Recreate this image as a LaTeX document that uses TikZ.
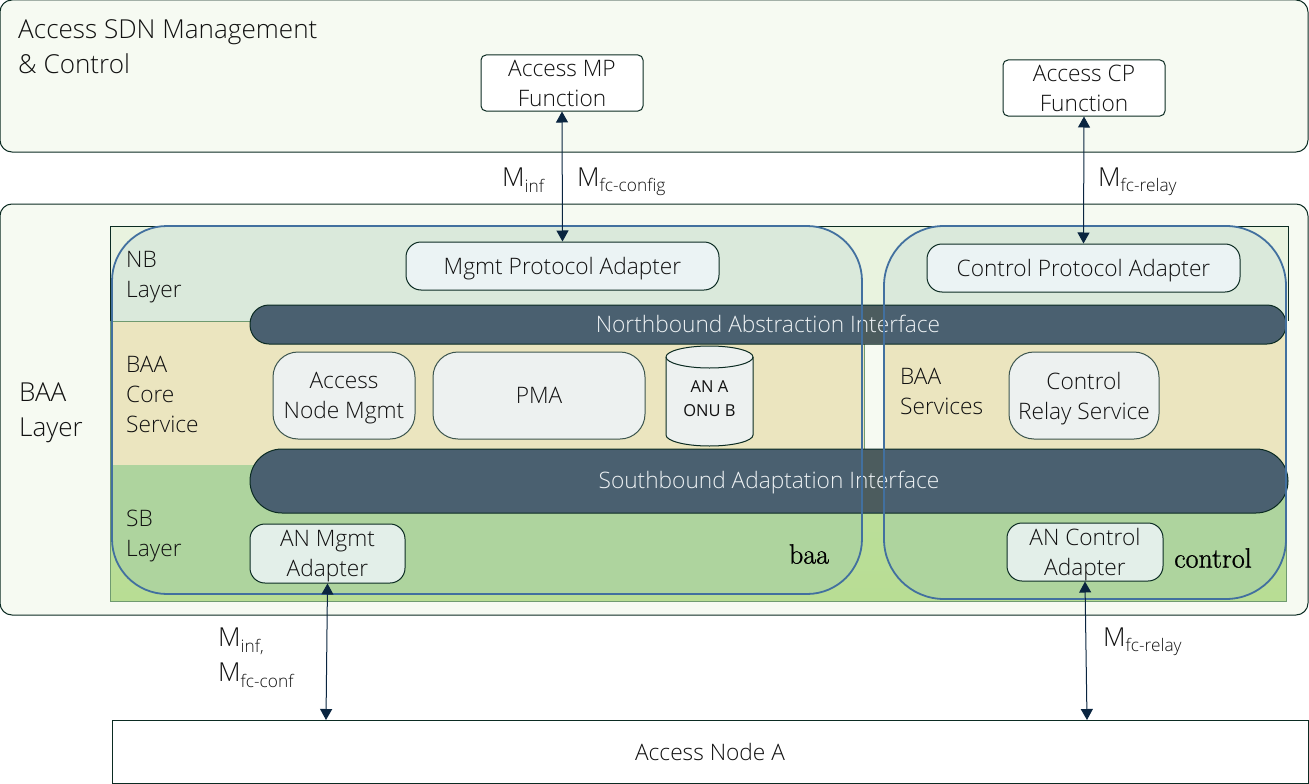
\documentclass[tikz,border=0pt]{standalone}
\usepackage{fontspec}
\newfontfamily\osf{Open Sans Light}
\newfontfamily\osr{Open Sans}
\newfontfamily\lmrb{Latin Modern Roman}[FakeBold=1]
\usetikzlibrary{arrows.meta}
\definecolor{panelc}{HTML}{F6FAF2}
\definecolor{darkl}{HTML}{0B2B22}
\definecolor{bluel}{HTML}{42709F}
\definecolor{barc}{HTML}{4A6070}
\definecolor{barg}{HTML}{4C5C5E}
\definecolor{topc}{HTML}{E9F3DF}
\definecolor{botc}{HTML}{B8DD94}
\definecolor{nbc}{HTML}{DAE9DB}
\definecolor{corec}{HTML}{EBE5BF}
\definecolor{sbc}{HTML}{AED49E}
\definecolor{greenl}{HTML}{6F9A70}
\definecolor{arrowc}{HTML}{0A2540}
\definecolor{txt}{HTML}{111111}
\definecolor{nbfill}{HTML}{EBF3F4}
\definecolor{corefill}{HTML}{EDF1F0}
\definecolor{sbfill}{HTML}{E3EFE9}
\definecolor{barText}{HTML}{EEF2F4}
\newcommand{\msub}[1]{M{\raisebox{-5.5pt}{\fontsize{17.3}{17}\selectfont #1}}}
\tikzset{
 txtm/.style={font=\osf\fontsize{22.7}{30}\selectfont,text=txt,align=center,inner sep=0pt,text depth=0pt},
 lab/.style={txtm,anchor=west,align=left},
 biglab/.style={font=\osf\fontsize{26.1}{35}\selectfont,text=txt,align=left,anchor=west,inner sep=0pt},
 panel/.style={draw=darkl,line width=1pt,fill=panelc,rounded corners=12pt,inner sep=0pt},
 fnbox/.style={txtm,draw=darkl,line width=1pt,fill=white,rounded corners=5pt},
 nbbox/.style={txtm,draw=darkl,line width=1pt,fill=nbfill,rounded corners=15pt},
 corebox/.style={txtm,draw=darkl!80,line width=1pt,fill=corefill,rounded corners=25pt},
 sbbox/.style={txtm,draw=darkl,line width=1pt,fill=sbfill,rounded corners=15pt},
 bar/.style={draw=darkl,line width=1pt,fill=barc,inner sep=0pt},
 bartxt/.style={txtm,text=barText},
 outl/.style={draw=bluel,line width=1.8pt},
 conn/.style={draw=arrowc,line width=1pt,{Triangle[length=11pt,width=12pt]}-{Triangle[length=11pt,width=12pt]}},
 serifl/.style={font=\lmrb\fontsize{28}{30}\selectfont,text=black,inner sep=0pt},
}
\begin{document}
\begin{tikzpicture}[x=1pt,y=-1pt]
\useasboundingbox (0,0) rectangle (1309,784);
\fill[white] (0,0) rectangle (1309,784);
% panels
\node[panel,minimum width=1308,minimum height=152] (smc) at (654,76) {};
\node[panel,minimum width=1308,minimum height=411] (baap) at (654,409.5) {};
\node[draw=darkl,line width=1pt,fill=white,minimum width=1196,minimum height=63,txtm] (an) at (710,751.5) {Access Node A};
% layer backgrounds
\fill[top color=botc!90!topc,bottom color=botc,draw=greenl,line width=1pt] (110,465) rectangle (1286,601);
\draw[draw=darkl,fill=topc,line width=1pt] (110,321) -- (110,226) -- (1288,226) -- (1288,321);
\fill[topc] (111,227) rectangle (1287,321);
\fill[corec,draw=greenl,line width=1pt] (110,321) rectangle (864,465);
\fill[corec] (884,321) rectangle (1286,465);
\begin{scope}
\clip[rounded corners=55pt] (112,226) rectangle (862,594);
\fill[nbc] (112,226) rectangle (862,321);
\fill[sbc] (112,465) rectangle (862,594);
\end{scope}
\begin{scope}
\clip[rounded corners=60pt] (884,226) rectangle (1286,599);
\fill[nbc] (884,226) rectangle (1286,321);
\fill[sbc] (884,465) rectangle (1286,599);
\end{scope}
\fill[panelc] (865,344) rectangle (884,449);
% bars
\node[bar,rounded corners=19pt,minimum width=1036,minimum height=39] (nai) at (768,324.5) {};
\node[bar,rounded corners=32pt,minimum width=1038,minimum height=64] (sai) at (769,481) {};
\fill[barg] (862,306) rectangle (884,344);
\fill[barg] (862,450) rectangle (884,512);
\node[bartxt] (naitxt) at (768,324) {Northbound Abstraction Interface};
\node[bartxt] (saitxt) at (769,480) {Southbound Adaptation Interface};
% blue outlines
\draw[outl,rounded corners=55pt] (112,226) rectangle (862,594);
\draw[outl,rounded corners=60pt] (884,226) rectangle (1286,599);
% boxes
\node[fnbox,minimum width=162,minimum height=56] (mpf) at (562,83) {Access MP\\Function};
\node[fnbox,minimum width=162,minimum height=56] (cpf) at (1084,88) {Access CP\\Function};
\node[nbbox,minimum width=313,minimum height=48] (mpa) at (562.5,266) {Mgmt Protocol Adapter};
\node[nbbox,minimum width=313,minimum height=48] (cpa) at (1083.5,268) {Control Protocol Adapter};
\node[corebox,minimum width=142,minimum height=87] (anm) at (344,395.5) {Access\\Node Mgmt};
\node[corebox,minimum width=212,minimum height=87] (pma) at (539,395.5) {PMA};
\node[corebox,minimum width=150,minimum height=87] (crs) at (1084,395.5) {Control\\Relay Service};
\node[sbbox,minimum width=155,minimum height=59] (ama) at (327.5,553.5) {AN Mgmt\\Adapter};
\node[sbbox,minimum width=156,minimum height=58] (aca) at (1085,552) {AN Control\\Adapter};
% database cylinder
\path[draw=darkl,line width=1pt,fill=corefill] (666,357) arc[start angle=180,end angle=0,x radius=43.5,y radius=-11] -- (753,435) arc[start angle=0,end angle=-180,x radius=43.5,y radius=-11] -- cycle;
\draw[darkl,line width=1pt] (666,357) arc[start angle=180,end angle=360,x radius=43.5,y radius=-11];
\node[font=\osr\fontsize{16.5}{24}\selectfont,text=txt,align=center,inner sep=0pt] (db) at (709.5,399) {AN A\\ONU B};
% layer labels
\node[biglab] (t1) at (18,46.5) {Access SDN Management\\\& Control};
\node[biglab] (t2) at (19,412.5) {BAA\\Layer};
\node[lab] (t3) at (126,274.5) {NB\\Layer};
\node[lab] (t4) at (126,394) {BAA\\Core\\Service};
\node[lab] (t5) at (126,533.5) {SB\\Layer};
\node[lab] (t6) at (900,391) {BAA\\Services};
\node[serifl] (t7) at (809,554) {baa};
\node[serifl] (t8) at (1213,558) {control};
% connector labels
\node[biglab] (m1) at (502,180) {\msub{inf}};
\node[biglab] (m2) at (577,182) {\msub{fc-config}};
\node[biglab] (m3) at (1098,182) {\msub{fc-relay}};
\node[biglab] (m4) at (218,658) {\msub{inf,}\\\msub{fc-conf}};
\node[biglab] (m5) at (1103,642) {\msub{fc-relay}};
% connectors
\coordinate (anl) at (326,720);
\coordinate (anr) at (1087,720);
\draw[conn] (mpf.south) -- (mpa.north);
\draw[conn] (cpf.south) -- (cpa.north);
\draw[conn] (ama.south) -- (anl);
\draw[conn] (aca.south) -- (anr);
\end{tikzpicture}
\end{document}
